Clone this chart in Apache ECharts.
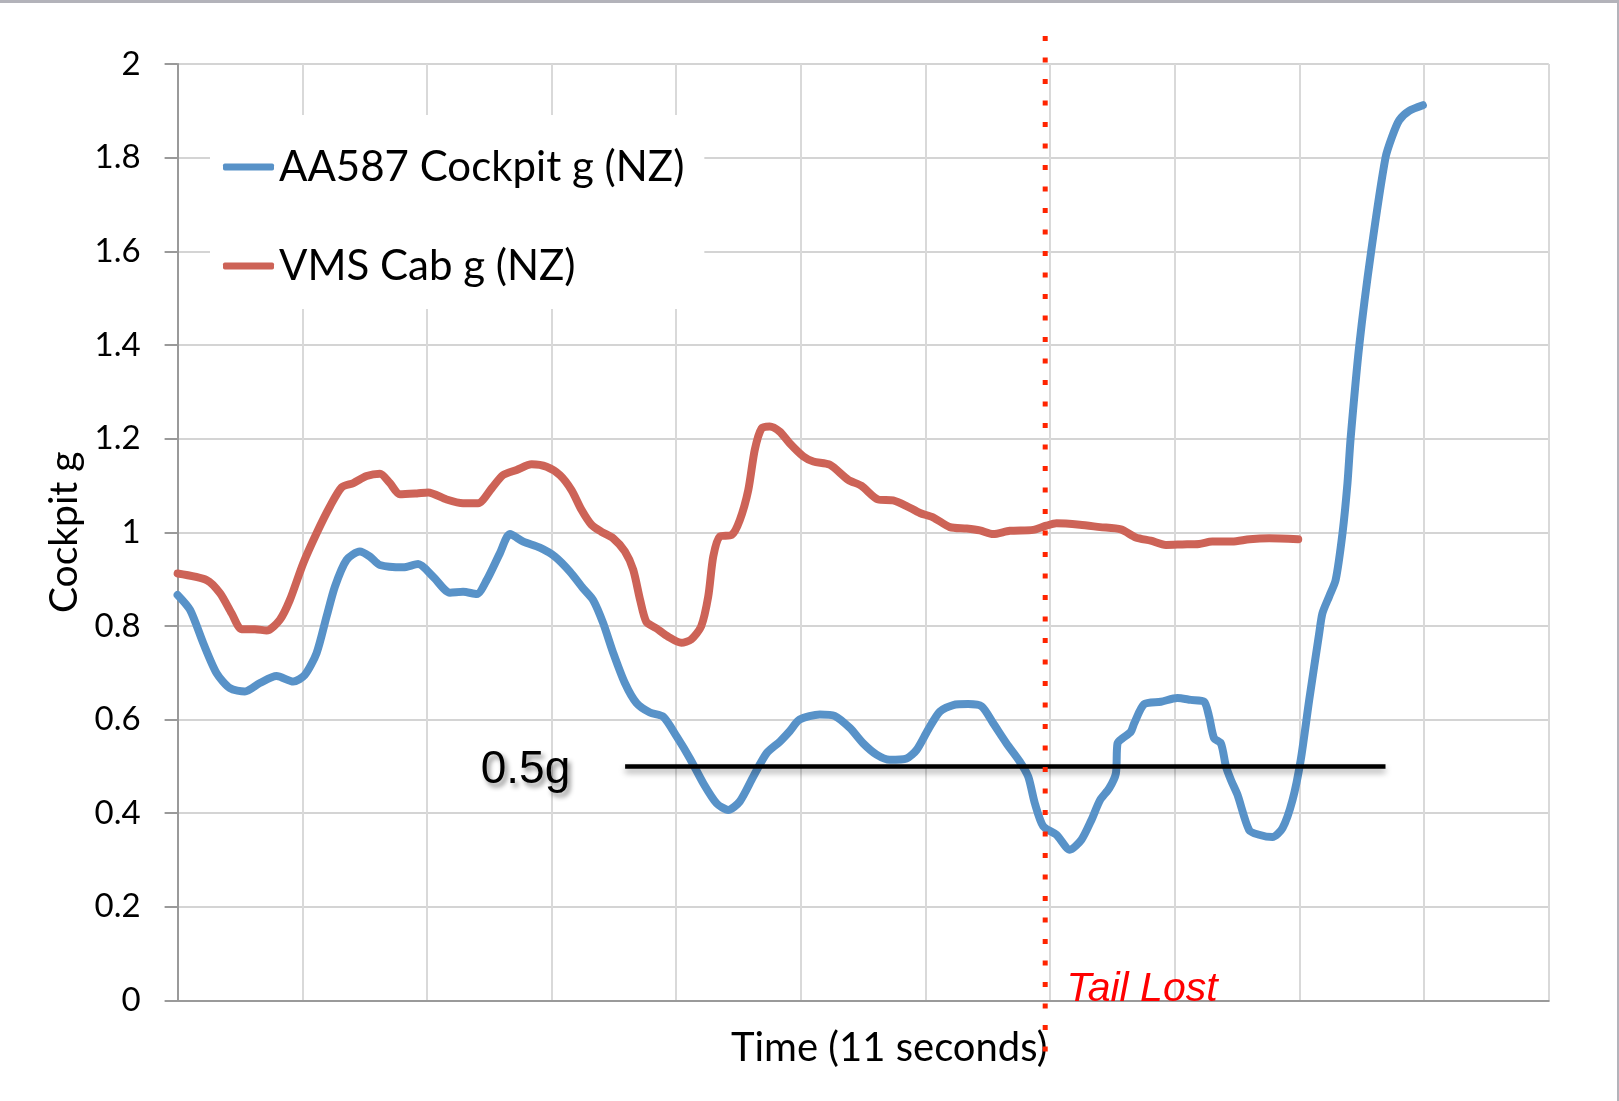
<!DOCTYPE html>
<html lang="en">
<head>
<meta charset="UTF-8">
<title>AA587 Cockpit g</title>
<style>
    html,
    body {
        margin: 0;
        padding: 0;
        background: #fff;
    }

    #wrap {
        position: relative;
        width: 1619px;
        height: 1101px;
    }

    #main {
        width: 1619px;
        height: 1101px;
    }

    /* thin grey frame at top and right like the slide crop */
    #frame {
        position: absolute;
        left: 0;
        top: 0;
        width: 1619px;
        height: 1101px;
        box-sizing: border-box;
        border-top: 3px solid #b3b3ba;
        border-right: 2px solid #b3b3ba;
        pointer-events: none;
    }
</style>
</head>
<body>
<div id="wrap">
    <div id="main"></div>
    <div id="frame"></div>
</div>
<script src="https://cdn.jsdelivr.net/npm/echarts@6/dist/echarts.min.js"></script>
<script>
    // AA587 cockpit g (blue)
    var blueTime = [0, 0.1, 0.206, 0.313, 0.42, 0.54, 0.66, 0.794, 0.928, 1.02, 1.115, 1.195, 1.262, 1.356, 1.462,
        1.543, 1.623, 1.81, 1.93, 2.05, 2.185, 2.29, 2.4, 2.48, 2.585, 2.666, 2.773, 2.906, 3.027, 3.147, 3.254,
        3.334, 3.414, 3.495, 3.588, 3.682, 3.789, 3.896, 4.003, 4.11, 4.217, 4.324, 4.417, 4.51, 4.618, 4.725,
        4.832, 4.91, 4.99, 5.152, 5.27, 5.393, 5.5, 5.607, 5.714, 5.848, 5.928, 6.02, 6.115, 6.222, 6.342, 6.45,
        6.543, 6.65, 6.757, 6.824, 6.877, 6.944, 7.05, 7.158, 7.25, 7.33, 7.4, 7.473, 7.527, 7.54, 7.58, 7.647,
        7.674, 7.754, 7.888, 8.02, 8.128, 8.235, 8.275, 8.315, 8.37, 8.41, 8.45, 8.503, 8.596, 8.676, 8.783,
        8.864, 8.944, 9.01, 9.078, 9.158, 9.184, 9.238, 9.29, 9.345, 9.385, 9.41, 9.48, 9.575, 9.69, 9.743, 9.8,
        9.88, 9.99];
    var blueG = [0.866, 0.834, 0.763, 0.699, 0.667, 0.66, 0.678, 0.693, 0.681, 0.695, 0.742, 0.82, 0.884, 0.941, 0.959,
        0.948, 0.93, 0.925, 0.932, 0.905, 0.871, 0.873, 0.868, 0.898, 0.955, 0.996, 0.98, 0.967, 0.948, 0.916, 0.88,
        0.855, 0.806, 0.742, 0.678, 0.635, 0.615, 0.606, 0.564, 0.517, 0.464, 0.421, 0.407, 0.425, 0.478, 0.528,
        0.553, 0.575, 0.6, 0.611, 0.608, 0.582, 0.549, 0.525, 0.514, 0.517, 0.535, 0.578, 0.617, 0.631, 0.633, 0.628,
        0.592, 0.549, 0.51, 0.478, 0.421, 0.372, 0.354, 0.322, 0.343, 0.385, 0.428, 0.453, 0.485, 0.549, 0.56, 0.574,
        0.592, 0.633, 0.638, 0.646, 0.642, 0.638, 0.606, 0.56, 0.549, 0.5, 0.471, 0.439, 0.364, 0.354, 0.349,
        0.368, 0.428, 0.514, 0.642, 0.784, 0.827, 0.863, 0.898, 0.998, 1.105, 1.2, 1.4, 1.6, 1.8, 1.845, 1.88,
        1.9, 1.912];

    // VMS cab g (red)
    var redTime = [0, 0.233, 0.34, 0.433, 0.513, 0.62, 0.714, 0.82, 0.9, 1.008, 1.115, 1.222, 1.316, 1.41, 1.516,
        1.623, 1.703, 1.783, 1.92, 2.01, 2.158, 2.29, 2.41, 2.52, 2.61, 2.72, 2.84, 2.96, 3.067, 3.16, 3.24, 3.32,
        3.4, 3.495, 3.588, 3.655, 3.71, 3.76, 3.84, 3.936, 4.04, 4.12, 4.2, 4.257, 4.297, 4.35, 4.444, 4.51, 4.578,
        4.63, 4.685, 4.75, 4.83, 4.91, 5.019, 5.1, 5.233, 5.38, 5.487, 5.62, 5.74, 5.848, 5.955, 6.06, 6.195, 6.33,
        6.436, 6.543, 6.676, 6.864, 6.97, 7.05, 7.238, 7.4, 7.567, 7.687, 7.807, 7.928, 8.06, 8.195, 8.3, 8.46,
        8.6, 8.757, 8.99];
    var redG = [0.912, 0.898, 0.87, 0.827, 0.793, 0.793, 0.79, 0.813, 0.855, 0.934, 0.998, 1.055, 1.096, 1.105, 1.12,
        1.125, 1.105, 1.081, 1.083, 1.085, 1.07, 1.062, 1.062, 1.094, 1.122, 1.133, 1.145, 1.14, 1.122, 1.09, 1.048,
        1.016, 1.001, 0.987, 0.959, 0.92, 0.856, 0.809, 0.795, 0.777, 0.764, 0.771, 0.799, 0.863, 0.948, 0.991,
        0.994, 1.026, 1.09, 1.176, 1.222, 1.226, 1.215, 1.19, 1.162, 1.151, 1.144, 1.112, 1.099, 1.07, 1.068, 1.056,
        1.041, 1.032, 1.011, 1.008, 1.004, 0.996, 1.003, 1.005, 1.014, 1.019, 1.016, 1.011, 1.006, 0.989, 0.982,
        0.973, 0.974, 0.975, 0.98, 0.98, 0.985, 0.987, 0.985];

    // annotations
    var thresholdG = 0.5;
    var thresholdSpan = [3.59, 9.69];
    var thresholdLabelAt = [3.15, 0.5];
    var tailLostTime = 6.96;
    var tailLineSpan = [-0.135, 2.06];
    var tailLabelAt = [7.13, 0];

    function pairs(t, g) {
        return t.map(function (x, i) { return [x, g[i]]; });
    }

    var myChart = echarts.init(document.getElementById('main'));

    var option = {
        backgroundColor: '#ffffff',
        animation: false,
        grid: {
            left: 177.6,
            right: 70.2,
            top: 64,
            bottom: 100.5,
            outerBoundsMode: 'none'
        },
        legend: {
            data: ['AA587 Cockpit g (NZ)', 'VMS Cab g (NZ)'],
            orient: 'vertical',
            left: 210,
            top: 115,
            backgroundColor: '#ffffff',
            padding: [27, 20, 18, 13],
            itemGap: 49,
            itemWidth: 51,
            itemHeight: 7,
            icon: 'roundRect',
            textStyle: {
                fontFamily: 'Lato',
                fontSize: 42,
                lineHeight: 50,
                color: '#000'
            }
        },
        xAxis: {
            type: 'value',
            min: 0,
            max: 11,
            interval: 1,
            name: 'Time (11 seconds)',
            nameLocation: 'middle',
            nameGap: 28,
            nameTextStyle: {
                fontFamily: 'Lato',
                fontSize: 40,
                color: '#000',
                padding: [0, 0, 0, 52]
            },
            axisLine: { show: true, lineStyle: { color: '#9a9a9a', width: 2 } },
            axisTick: { show: false },
            axisLabel: { show: false },
            splitLine: { show: true, lineStyle: { color: '#d9d9d9', width: 2 } }
        },
        yAxis: {
            type: 'value',
            min: 0,
            max: 2,
            interval: 0.2,
            name: 'Cockpit g',
            nameLocation: 'middle',
            nameGap: 93,
            nameTextStyle: {
                fontFamily: 'Lato',
                fontSize: 39,
                color: '#000'
            },
            axisLine: { show: true, lineStyle: { color: '#9a9a9a', width: 2 } },
            axisTick: { show: true, length: 13, lineStyle: { color: '#9a9a9a', width: 2 } },
            axisLabel: {
                margin: 37,
                fontFamily: 'Lato',
                fontSize: 33,
                color: '#000'
            },
            splitLine: { show: true, lineStyle: { color: '#d4d4d4', width: 2 } }
        },
        series: [
            {
                name: 'AA587 Cockpit g (NZ)',
                type: 'line',
                data: pairs(blueTime, blueG),
                showSymbol: false,
                smooth: 0.25,
                color: '#5892c8',
                lineStyle: { width: 8, color: '#5892c8', cap: 'round', join: 'round' },
                z: 3
            },
            {
                name: 'VMS Cab g (NZ)',
                type: 'line',
                data: pairs(redTime, redG),
                showSymbol: false,
                smooth: 0.25,
                color: '#cd6357',
                lineStyle: { width: 8, color: '#cd6357', cap: 'round', join: 'round' },
                z: 3
            },
            {
                name: 'threshold',
                type: 'line',
                data: [[thresholdSpan[0], thresholdG], [thresholdSpan[1], thresholdG]],
                showSymbol: false,
                symbol: 'none',
                lineStyle: {
                    color: '#000',
                    width: 4.5,
                    shadowColor: 'rgba(0,0,0,0.35)',
                    shadowBlur: 6,
                    shadowOffsetY: 4
                },
                z: 4
            },
            {
                name: 'notes',
                type: 'custom',
                data: [[tailLostTime, 0]],
                clip: false,
                z: 5,
                renderItem: function (params, api) {
                    var top = api.coord([tailLostTime, tailLineSpan[1]]);
                    var bottom = api.coord([tailLostTime, tailLineSpan[0]]);
                    var tail = api.coord(tailLabelAt);
                    var half = api.coord(thresholdLabelAt);
                    return {
                        type: 'group',
                        children: [
                            {
                                type: 'line',
                                shape: { x1: top[0], y1: top[1], x2: bottom[0], y2: bottom[1] },
                                style: { stroke: '#ff2400', lineWidth: 5, lineDash: [5, 16.5] }
                            },
                            {
                                type: 'text',
                                x: tail[0],
                                y: tail[1] + 10,
                                style: {
                                    text: 'Tail Lost',
                                    fill: '#ff0000',
                                    font: 'italic 41px "Liberation Sans"',
                                    align: 'left',
                                    verticalAlign: 'bottom'
                                }
                            },
                            {
                                type: 'text',
                                x: half[0],
                                y: half[1] + 4,
                                style: {
                                    text: '0.5g',
                                    fill: '#000',
                                    font: '46px "Liberation Sans"',
                                    align: 'right',
                                    verticalAlign: 'middle',
                                    textShadowColor: 'rgba(0,0,0,0.45)',
                                    textShadowBlur: 5,
                                    textShadowOffsetX: 3,
                                    textShadowOffsetY: 4
                                }
                            }
                        ]
                    };
                }
            }
        ]
    };

    myChart.setOption(option);
</script>
</body>
</html>
